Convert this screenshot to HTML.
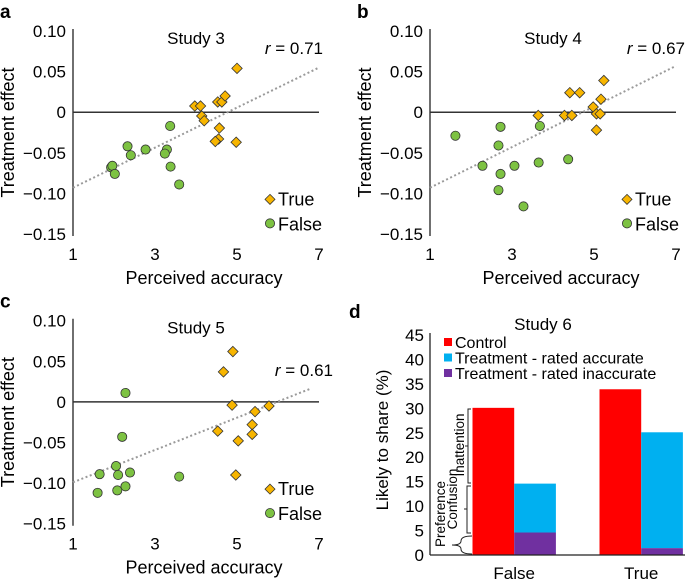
<!DOCTYPE html>
<html><head><meta charset="utf-8"><style>
body{margin:0;background:#fff;}
svg{display:block;font-family:"Liberation Sans",Arial,sans-serif;}
</style></head><body>
<svg id="c" width="685" height="579" viewBox="0 0 685 579"></svg>
<script>
const aTrueX=[3.97,4.11,4.14,4.2,4.53,4.63,4.71,4.57,4.55,4.47,4.98,5.0];
const aTrueY=[0.0076,0.0076,-0.0047,-0.0105,0.0126,0.0126,0.02,-0.0195,-0.033,-0.036,-0.037,0.054];
const aFalseX=[1.93,1.96,2.02,2.33,2.41,2.77,3.29,3.24,3.37,3.38,3.59];
const aFalseY=[-0.068,-0.066,-0.076,-0.042,-0.053,-0.046,-0.046,-0.051,-0.017,-0.067,-0.089];
const aTrend=[-0.093,0.055];
const bTrueX=[3.64,4.28,4.46,4.41,4.65,4.98,5.06,5.15,5.17,5.24,5.06];
const bTrueY=[-0.004,-0.004,-0.004,0.024,0.024,0.0064,-0.002,-0.002,0.016,0.039,-0.022];
const bFalseX=[1.62,2.28,2.67,2.72,2.72,2.67,3.06,3.28,3.65,3.68,4.37];
const bFalseY=[-0.029,-0.066,-0.041,-0.018,-0.076,-0.096,-0.066,-0.116,-0.062,-0.017,-0.058];
const bTrend=[-0.093,0.057];
const cTrueX=[4.9,4.67,4.88,4.53,5.03,4.97,5.37,5.37,5.44,5.78];
const cTrueY=[0.062,0.037,-0.004,-0.036,-0.048,-0.09,-0.028,-0.04,-0.012,-0.005];
const cFalseX=[2.28,2.2,2.05,1.65,2.1,2.39,2.28,2.08,1.6,3.59];
const cFalseY=[0.011,-0.043,-0.079,-0.089,-0.09,-0.087,-0.104,-0.109,-0.112,-0.092];
const cTrend=[-0.099,0.016];
const cTrendEnd=6.78;
const yTicks=[0.10,0.05,0,-0.05,-0.10,-0.15];
const yTickLabels=["0.10","0.05","0","\u22120.05","\u22120.10","\u22120.15"];
const xTicks=[1,3,5,7];
const dCats=["False","True"];
const dControl=[30.1,33.9];
const dAccurate=[14.6,25.1];
const dInaccurate=[4.6,1.4];
const dTicks=[0,5,10,15,20,25,30,35,40,45];

const svg=document.getElementById('c');
const NS='http://www.w3.org/2000/svg';
function mk(tag,attrs,parent,text){const e=document.createElementNS(NS,tag);for(const k in attrs)e.setAttribute(k,attrs[k]);if(text!==undefined)e.textContent=text;(parent||svg).appendChild(e);return e;}

function scatter(ox,oy,letter,title,rtxt,rx,ry,tx,ty,fx,fy,trend,trendEnd,key){
  const g=mk('g',{});
  
  
  const X=v=>ox+(v-1)*41;
  const Ys=v=>oy+(0.10-v)*812;
  const l=mk('text',{x:ox-73,y:oy-13,'font-size':19,'font-weight':'bold'},g,letter);
  
  const t=mk('text',{x:ox+123,y:oy+13,'font-size':17,'text-anchor':'middle'},g,title);
  
  const ax=mk('line',{x1:ox,y1:oy-2,x2:ox,y2:Ys(-0.15)+2,stroke:'#222','stroke-width':1.3},g);
  
  const z=mk('line',{x1:ox,y1:Ys(0),x2:X(7),y2:Ys(0),stroke:'#333','stroke-width':1.5},g);
  
  yTicks.forEach((v,i)=>{const e=mk('text',{x:ox-7,y:Ys(v)+6,'font-size':17,'text-anchor':'end'},g,yTickLabels[i]);
    });
  xTicks.forEach(v=>{const e=mk('text',{x:X(v),y:Ys(-0.15)+26,'font-size':17,'text-anchor':'middle'},g,String(v));
    });
  const xt=mk('text',{x:ox+131,y:Ys(-0.15)+50,'font-size':18,'text-anchor':'middle'},g,'Perceived accuracy');
  
  const yt=mk('text',{x:0,y:0,'font-size':18,'text-anchor':'middle',transform:`translate(${ox-59},${Ys(-0.025)}) rotate(-90)`},g,'Treatment effect');
  
  const tl=mk('line',{x1:X(1),y1:Ys(trend[0]),x2:X(trendEnd),y2:Ys(trend[1]),stroke:'#9a9a9a','stroke-width':2,'stroke-dasharray':'2,2.5'},g);
  
  const r=mk('text',{x:rx,y:ry,'font-size':17,'text-anchor':'end'},g);
  mk('tspan',{'font-style':'italic'},r,'r');mk('tspan',{},r,' = '+rtxt);
  
  fx.forEach((v,i)=>{const c=mk('circle',{cx:X(v),cy:Ys(fy[i]),r:4.6,fill:'#7dc242',stroke:'#333','stroke-width':0.8},g);
    });
  tx.forEach((v,i)=>{const cx=X(v),cy=Ys(ty[i]),s=5.2;
    const p=mk('polygon',{points:`${cx},${cy-s} ${cx+s},${cy} ${cx},${cy+s} ${cx-s},${cy}`,fill:'#f7b500',stroke:'#333','stroke-width':0.8},g);
    });
  const lx=ox+197, ly=Ys(-0.10)+6;
  const ld=mk('polygon',{points:`${lx},${ly-5} ${lx+5},${ly} ${lx},${ly+5} ${lx-5},${ly}`,fill:'#f7b500',stroke:'#333','stroke-width':0.8},g);
  
  const lt=mk('text',{x:lx+8,y:ly+6,'font-size':18},g,'True');
  
  const lc=mk('circle',{cx:lx,cy:ly+24,r:4.6,fill:'#7dc242',stroke:'#333','stroke-width':0.8},g);
  
  const lf=mk('text',{x:lx+8,y:ly+31,'font-size':18},g,'False');
  
}
scatter(73,31,'a','Study 3','0.71',323,54,aTrueX,aTrueY,aFalseX,aFalseY,aTrend,7,'study3');
scatter(430,31,'b','Study 4','0.67',685,54,bTrueX,bTrueY,bFalseX,bFalseY,bTrend,7,'study4');
scatter(73,320.7,'c','Study 5','0.61',333,376,cTrueX,cTrueY,cFalseX,cFalseY,cTrend,cTrendEnd,'study5');

(function(){
  const g=mk('g',{});
  
  
  const base=555, k=220/45, ax=430;
  const Y=v=>base-v*k;
  const l=mk('text',{x:349,y:318,'font-size':19,'font-weight':'bold'},g,'d');
  
  const t=mk('text',{x:543,y:330,'font-size':17,'text-anchor':'middle'},g,'Study 6');
  
  const catX=[472.5,599.5], bw=41.7;
  dCats.forEach((c,i)=>{
    const x0=catX[i];
    const b1=mk('rect',{x:x0,y:Y(dControl[i]),width:bw,height:dControl[i]*k,fill:'#ff0000'},g);
    
    const b2=mk('rect',{x:x0+bw,y:Y(dAccurate[i]),width:bw,height:(dAccurate[i]-dInaccurate[i])*k,fill:'#00b0f0'},g);
    
    const b3=mk('rect',{x:x0+bw,y:Y(dInaccurate[i]),width:bw,height:dInaccurate[i]*k,fill:'#7030a0'},g);
    
    const ct=mk('text',{x:x0+bw,y:579,'font-size':17,'text-anchor':'middle'},g,c);
    
  });
  const ya=mk('line',{x1:ax,y1:Y(45)-2,x2:ax,y2:base,stroke:'#222','stroke-width':1.3},g);
  
  const xa=mk('line',{x1:ax,y1:base,x2:685,y2:base,stroke:'#222','stroke-width':1.3},g);
  
  dTicks.forEach(v=>{const e=mk('text',{x:ax-6,y:Y(v)+6,'font-size':17,'text-anchor':'end'},g,String(v));
    });
  const yt=mk('text',{x:0,y:0,'font-size':17,'text-anchor':'middle',transform:'translate(388,440) rotate(-90)'},g,'Likely to share (%)');
  
  const leg=[['#ff0000','Control'],['#00b0f0','Treatment - rated accurate'],['#7030a0','Treatment - rated inaccurate']];
  leg.forEach((d,i)=>{
    const s=mk('rect',{x:444,y:338+i*15.5,width:8,height:8,fill:d[0]},g);
    
    const tx=mk('text',{x:455,y:348+i*15.5,'font-size':16},g,d[1]);
    
  });
  const br1=mk('path',{d:'M471,409 H468 V483 H471 M468,446 H465',fill:'none',stroke:'#222','stroke-width':1},g);
  
  const br2=mk('path',{d:'M471,486 H467 V533 H471 M467,509 H464',fill:'none',stroke:'#222','stroke-width':1},g);
  
  const br3=mk('path',{d:'M472,536 Q461,536 461,541 Q461,545 452,545 Q461,545 461,549 Q461,554 472,554',fill:'none',stroke:'#222','stroke-width':1},g);
  
  const t1=mk('text',{x:0,y:0,'font-size':13.5,'text-anchor':'middle',transform:'translate(464,445) rotate(-90)'},g,'Inattention');
  
  const t2=mk('text',{x:0,y:0,'font-size':13.5,'text-anchor':'middle',transform:'translate(457,499) rotate(-90)'},g,'Confusion');
  
  const t3=mk('text',{x:0,y:0,'font-size':13.5,'text-anchor':'middle',transform:'translate(445,514) rotate(-90)'},g,'Preference');
  
})();
</script>
</body></html>
